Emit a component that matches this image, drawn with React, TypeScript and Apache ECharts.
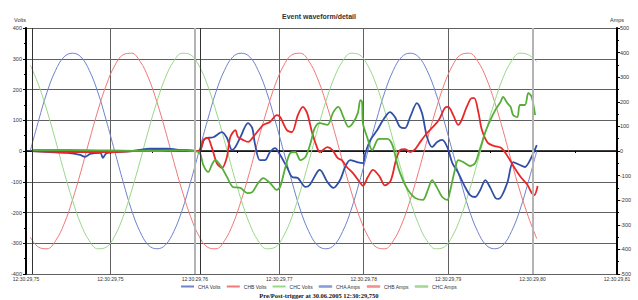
import React, { useEffect, useRef } from "react";
import * as echarts from "echarts";

// x tick labels (one per 10 ms)
const timeLabels = ["12:30:29,75", "12:30:29,75", "12:30:29,76", "12:30:29,77", "12:30:29,78", "12:30:29,79", "12:30:29,80", "12:30:29,81"];

// Voltage samples, one per ms starting at 0.5 ms
const voltStartMs = 0.5;
const voltsA = [
  0, 100, 192, 262, 306, 318, 306, 262, 192, 100, 0, -100, -192, -262, -306, -318, -306, -262, -192, -100,
  0, 100, 192, 262, 306, 318, 306, 262, 192, 100, 0, -100, -192, -262, -306, -318, -306, -262, -192, -100,
  0, 100, 192, 262, 306, 318, 306, 262, 192, 100, 0, -100, -192, -262, -306, -318, -306, -262, -192, -100,
  0,
];
const voltsB = [
  -280, -313, -318, -292, -238, -160, -67, 34, 130, 214, 277, 313, 318, 292, 238, 160, 67, -34, -130, -214,
  -277, -313, -318, -292, -238, -160, -67, 34, 130, 214, 277, 313, 318, 292, 238, 160, 67, -34, -130, -214,
  -277, -313, -318, -292, -238, -160, -67, 34, 130, 214, 277, 313, 318, 292, 238, 160, 67, -34, -130, -214,
  -285,
];
const voltsC = [
  280, 214, 130, 34, -67, -160, -238, -292, -318, -313, -277, -214, -130, -34, 67, 160, 238, 292, 318, 313,
  277, 214, 130, 34, -67, -160, -238, -292, -318, -313, -277, -214, -130, -34, 67, 160, 238, 292, 318, 313,
  277, 214, 130, 34, -67, -160, -238, -292, -318, -313, -277, -214, -130, -34, 67, 160, 238, 292, 318, 313,
  290,
];

// Currents: [ms, A]
const ampsA = [
  [0.7, 0], [2.8, -4], [4.9, -8], [6.4, -16], [7.0, -24], [7.6, -12], [8.8, -8], [9.1, -28], [9.5, -10], [10.8, -4],
  [12.7, 0], [14.7, 10], [16.7, 10], [18.6, 2], [20.0, 0], [20.6, 4], [21.2, 50], [22.2, 56], [23.2, 77], [23.8, 53],
  [24.4, 4], [24.8, 16], [25.4, 57], [26.3, 113], [26.8, 93], [27.1, 32], [27.7, -37], [28.3, -37], [28.9, -4], [29.5, 12],
  [30.1, -16], [30.9, -65], [31.5, -105], [32.2, -110], [33.1, -146], [33.6, -138], [34.5, -85], [34.8, -77], [35.7, -126], [36.4, -150],
  [37.2, -118], [37.8, -65], [38.4, -37], [39.2, -45], [39.9, -49], [40.2, -8], [40.8, 45], [41.6, 85], [42.3, 126], [43.1, 158],
  [43.7, 138], [44.3, 98], [44.9, 93], [45.5, 138], [46.3, 195], [46.9, 154], [47.5, 57], [48.1, 16], [48.7, 37], [49.3, 45],
  [49.9, 16], [50.5, -49], [51.2, -89], [52.0, -146], [52.6, -179], [53.2, -187], [53.8, -159], [54.4, -118], [55.0, -150], [55.6, -191],
  [56.0, -195], [57.0, -130], [57.7, -45], [58.5, -57], [59.1, -65], [59.7, -37], [60.5, 24],
];
const ampsB = [
  [0.7, 0], [5.0, -4], [10.0, -4], [15.0, 4], [19.0, 4], [20.0, 0], [20.6, 0], [21.0, 45], [21.5, 53], [22.0, 16],
  [22.6, -49], [23.2, -69], [23.8, -24], [24.2, 57], [24.8, 85], [25.1, 57], [25.7, 45], [26.3, 37], [27.1, 65], [28.1, 106],
  [28.9, 118], [29.7, 146], [30.1, 138], [30.9, 85], [31.5, 77], [32.2, 146], [32.8, 179], [33.3, 154], [33.9, 73], [34.5, 12],
  [34.8, -4], [35.7, 16], [36.3, 4], [36.9, -28], [37.4, -37], [38.0, -65], [38.7, -89], [39.6, -130], [39.9, -142], [40.5, -105],
  [41.1, -77], [41.9, -105], [42.5, -140], [43.2, -120], [43.8, -40], [44.3, 4], [44.9, 8], [45.5, -4], [46.1, 8], [46.7, 37],
  [47.5, 73], [48.2, 98], [48.9, 126], [49.6, 175], [50.0, 179], [50.6, 146], [51.2, 106], [51.6, 126], [52.2, 179], [52.8, 215],
  [53.1, 215], [53.6, 154], [54.0, 85], [54.7, 33], [55.5, 20], [56.3, 12], [57.1, -24], [57.8, -65], [58.6, -106], [59.4, -138],
  [59.9, -171], [60.2, -179], [60.6, -142],
];
const ampsC = [
  [0.7, 4], [5.0, 4], [10.0, 2], [15.0, 0], [19.0, 2], [20.0, 0], [20.6, -8], [21.0, -57], [21.6, -85], [22.0, -57],
  [22.4, -37], [23.0, -57], [23.8, -105], [24.5, -146], [25.4, -150], [26.2, -171], [26.8, -167], [27.5, -130], [28.1, -110], [28.9, -130],
  [29.7, -158], [30.1, -146], [30.7, -69], [31.3, -8], [31.9, -4], [32.5, -37], [33.1, -24], [33.7, 32], [34.2, 93], [34.8, 113],
  [35.7, 106], [36.4, 158], [37.0, 179], [37.6, 138], [38.2, 98], [38.7, 113], [39.3, 154], [39.6, 207], [39.8, 200], [39.9, 113],
  [40.4, 57], [41.0, 4], [41.6, 45], [41.9, 49], [42.8, 49], [43.4, 24], [44.0, -57], [44.3, -89], [44.9, -138], [45.5, -171],
  [46.1, -191], [47.0, -199], [47.6, -158], [48.1, -118], [48.7, -150], [49.3, -187], [49.9, -199], [50.2, -167], [50.8, -77], [51.2, -37],
  [51.8, -45], [52.6, -61], [53.2, -49], [53.8, 12], [54.4, 77], [55.0, 126], [55.6, 167], [56.2, 199], [56.5, 220], [57.0, 195],
  [57.4, 179], [57.7, 146], [58.2, 138], [58.5, 187], [59.1, 187], [59.5, 236], [59.9, 220], [60.1, 187], [60.3, 146],
];

const seriesNames = ["CHA Volts", "CHB Volts", "CHC Volts", "CHA Amps", "CHB Amps", "CHC Amps"];
const FONT = "Liberation Sans, Arial, sans-serif";

export default function App() {
  const ref = useRef<HTMLDivElement>(null);
  useEffect(() => {
    if (!ref.current) return;
    const chart = echarts.init(ref.current, null, { renderer: "svg" });
    const volt = (arr: number[]) => arr.map((v, i) => [voltStartMs + i, v]);
    const thin = (name: string, color: string, data: number[][]) => ({
      name, type: "line", yAxisIndex: 0, data, symbol: "none", smooth: 0.4,
      lineStyle: { color, width: 1 }, itemStyle: { color }, z: 2,
    });
    const thick = (name: string, color: string, data: number[][]) => ({
      name, type: "line", yAxisIndex: 1, data, symbol: "none", smooth: 0.3,
      lineStyle: { color, width: 1.8 }, itemStyle: { color }, z: 3,
    });
    const s0: any = thin(seriesNames[0], "#6f82cc", volt(voltsA));
    s0.markLine = {
      silent: true, symbol: "none", label: { show: false },
      data: [
        { xAxis: 20, lineStyle: { color: "#b4b4b4", width: 2, type: "solid" } },
        { xAxis: 60, lineStyle: { color: "#b4b4b4", width: 2, type: "solid" } },
        { xAxis: 0.7, lineStyle: { color: "#333", width: 1, type: "solid" } },
        { xAxis: 20.6, lineStyle: { color: "#333", width: 1, type: "solid" } },
      ],
    };
    const legendColors = ["#6f82cc", "#f07878", "#98d888", "#8a9cd8", "#f29090", "#a4d894"];
    chart.setOption({
      animation: false,
      backgroundColor: "#ffffff",
      title: {
        text: "Event waveform/detail", left: "center", top: 8,
        textStyle: { fontSize: 7, fontWeight: "bold", color: "#333", fontFamily: FONT },
      },
      grid: { left: 26, right: 21, top: 28, bottom: 26 },
      xAxis: {
        type: "value", min: 0, max: 70, interval: 10,
        axisLine: { lineStyle: { color: "#000", width: 1.5 } },
        axisTick: { show: true, length: 3, lineStyle: { color: "#000" } },
        minorTick: { show: true, splitNumber: 2, length: 2, lineStyle: { color: "#000" } },
        axisLabel: { fontSize: 5, color: "#333", margin: 2, fontFamily: FONT, formatter: (v: number) => timeLabels[Math.round(v / 10)] ?? "" },
        splitLine: { show: true, lineStyle: { color: "#606060", width: 1 } },
      },
      yAxis: [
        {
          type: "value", min: -400, max: 400, interval: 100, position: "left",
          name: "Volts", nameLocation: "end", nameGap: 5,
          nameTextStyle: { fontSize: 5.5, color: "#333", fontFamily: FONT, align: "right" },
          axisLine: { show: true, lineStyle: { color: "#000", width: 2 } },
          axisTick: { show: true, length: 3, lineStyle: { color: "#000" } },
          minorTick: { show: true, splitNumber: 2, length: 2, lineStyle: { color: "#000" } },
          axisLabel: { fontSize: 5.5, color: "#333", margin: 4, fontFamily: FONT },
          splitLine: { show: true, lineStyle: { color: "#606060", width: 1 } },
        },
        {
          type: "value", min: -500, max: 500, interval: 100, position: "right",
          name: "Amps", nameLocation: "end", nameGap: 5,
          nameTextStyle: { fontSize: 5.5, color: "#333", fontFamily: FONT },
          axisLine: { show: true, lineStyle: { color: "#000", width: 2 } },
          axisTick: { show: true, length: 3, lineStyle: { color: "#000" } },
          minorTick: { show: true, splitNumber: 2, length: 2, lineStyle: { color: "#000" } },
          axisLabel: { fontSize: 5.5, color: "#333", margin: 3, fontFamily: FONT },
          splitLine: { show: false },
        },
      ],
      legend: {
        top: 284, left: "center", padding: 0, itemWidth: 13, itemHeight: 2, itemGap: 6,
        textStyle: { fontSize: 5, color: "#333", fontFamily: FONT, padding: [0, 0, 0, -1] },
        data: seriesNames.map((n, i) => ({
          name: n, icon: i < 3 ? "rect" : "roundRect",
          itemStyle: { color: legendColors[i], borderWidth: i < 3 ? 0 : 0.6, borderColor: legendColors[i] },
        })),
      },
      graphic: [
        {
          type: "text", left: "center", bottom: 1,
          style: { text: "Pre/Post-trigger at 30.06.2005 12:30:29,750", font: "bold 6.5px 'Liberation Serif', serif", fill: "#111" },
        },
      ],
      series: [
        s0,
        thin(seriesNames[1], "#f07878", volt(voltsB)),
        thin(seriesNames[2], "#98d888", volt(voltsC)),
        thick(seriesNames[3], "#2f4fa8", ampsA),
        thick(seriesNames[4], "#e82828", ampsB),
        thick(seriesNames[5], "#56ae38", ampsC),
      ],
    });
    return () => chart.dispose();
  }, []);
  return <div ref={ref} style={{ position: "fixed", left: 0, top: 0, width: 638, height: 300, background: "#fff" }} />;
}
